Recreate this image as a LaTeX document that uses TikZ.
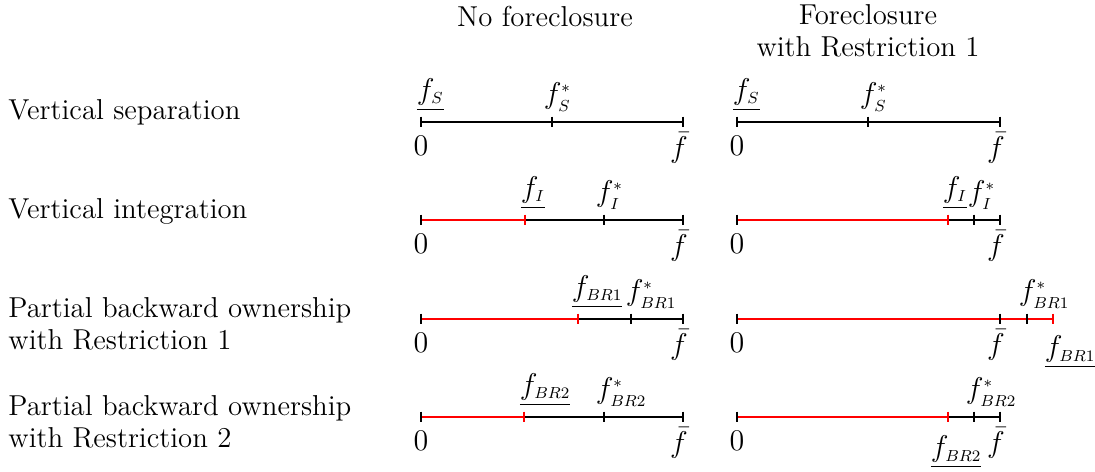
\documentclass[tikz,border=0pt]{standalone}
\usepackage{fix-cm}
\usepackage{amsmath,amssymb}
\usepackage{tikz}
\usetikzlibrary{positioning}
\DeclareMathSizes{15}{15}{8}{6}

\begin{document}
\begin{tikzpicture}[x=0.5pt,y=-0.5pt,
		every node/.style={font=\fontsize{14.4}{16}\selectfont},
		tick/.style={inner sep=0pt,minimum width=0pt,minimum height=5pt},
		thin/.style={line width=0.8pt},
		bold/.style={line width=1.4pt},
		redline/.style={red,line width=1.1pt},
		lab/.style={inner sep=0pt,font=\fontsize{15}{17}\selectfont},
		rowlab/.style={anchor=west,align=left,inner sep=0pt}]
	\useasboundingbox (0,0) rectangle (1095,471);
	% headers and row labels
	\node (hnofc) at (545,17) {No foreclosure};
	\node[align=center] (hfc) at (868,31) {Foreclosure\\with Restriction 1};
	\node[rowlab] (rsep) at (8,112) {Vertical separation};
	\node[rowlab] (rint) at (8,211) {Vertical integration};
	\node[rowlab] (rbr1) at (8,324) {Partial backward ownership\\with Restriction 1};
	\node[rowlab] (rbr2) at (8,422) {Partial backward ownership\\with Restriction 2};

	% vertical separation
	\node[tick] (a0) at (421,122) {};
	\node[tick] (a1) at (552,122) {};
	\node[tick] (a2) at (683,122) {};
	\draw[bold] (a0.center) -- (a1.center);
	\draw[thin] (a1.center) -- (a2.center);
	\node[tick] (b0) at (737,122) {};
	\node[tick] (b1) at (868,122) {};
	\node[tick] (b2) at (1000,122) {};
	\draw[bold] (b0.center) -- (b1.center);
	\draw[thin] (b1.center) -- (b2.center);
	\foreach \t in {a0,a1,a2,b0,b1,b2} \draw[thin] (\t.north) -- (\t.south);
	\node[lab,above right=2.5pt and -2.5pt of a0] (la0) {$\underline{f_S}$};
	\node[lab,above right=2.5pt and -4.5pt of a1] (la1) {$f^*_S$};
	\node[lab,below=4pt of a0] (za) {$0$};
	\node[lab,below=2.5pt of a2,xshift=-2pt] (fa) {$\bar f$};
	\node[lab,above right=2.5pt and -2.5pt of b0] (lb0) {$\underline{f_S}$};
	\node[lab,above right=2.5pt and -4.5pt of b1] (lb1) {$f^*_S$};
	\node[lab,below=4pt of b0] (zb) {$0$};
	\node[lab,below=2.5pt of b2,xshift=-2pt] (fb) {$\bar f$};

	% vertical integration
	\node[tick] (c0) at (421,220) {};
	\node[tick] (c1) at (525,220) {};
	\node[tick] (c2) at (604,220) {};
	\node[tick] (c3) at (683,220) {};
	\draw[redline] (c0.center) -- (c1.center);
	\draw[bold] (c1.center) -- (c2.center);
	\draw[thin] (c2.center) -- (c3.center);
	\node[tick] (d0) at (737,220) {};
	\node[tick] (d1) at (948,220) {};
	\node[tick] (d2) at (974,220) {};
	\node[tick] (d3) at (1000,220) {};
	\draw[redline] (d0.center) -- (d1.center);
	\draw[bold] (d1.center) -- (d2.center);
	\draw[thin] (d2.center) -- (d3.center);
	\foreach \t in {c0,c2,c3,d0,d2,d3} \draw[thin] (\t.north) -- (\t.south);
	\foreach \t in {c1,d1} \draw[thin,red] (\t.north) -- (\t.south);
	\node[lab,above right=2.5pt and -2.5pt of c1] (lc1) {$\underline{f_I}$};
	\node[lab,above right=2.5pt and -4.5pt of c2] (lc2) {$f^*_I$};
	\node[lab,below=4pt of c0] (zc) {$0$};
	\node[lab,below=2.5pt of c3,xshift=-2pt] (fc) {$\bar f$};
	\node[lab,above right=2.5pt and -3pt of d1] (ld1) {$\underline{f_I}$};
	\node[lab,above right=2.5pt and -3.5pt of d2] (ld2) {$f^*_I$};
	\node[lab,below=4pt of d0] (zd) {$0$};
	\node[lab,below=2.5pt of d3,xshift=-2pt] (fd) {$\bar f$};

	% partial backward ownership, restriction 1
	\node[tick] (e0) at (421,319) {};
	\node[tick] (e1) at (578,319) {};
	\node[tick] (e2) at (631,319) {};
	\node[tick] (e3) at (683,319) {};
	\draw[redline] (e0.center) -- (e1.center);
	\draw[thin] (e1.center) -- (e3.center);
	\node[tick] (g0) at (737,319) {};
	\node[tick] (g1) at (1000,319) {};
	\node[tick] (g2) at (1027,319) {};
	\node[tick] (g3) at (1053,319) {};
	\draw[redline] (g0.center) -- (g2.center);
	\draw[red,thin] (g2.center) -- (g3.center);
	\foreach \t in {e0,e2,e3,g0,g1,g2} \draw[thin] (\t.north) -- (\t.south);
	\foreach \t in {e1,g3} \draw[thin,red] (\t.north) -- (\t.south);
	\node[lab,above right=2.5pt and -3.5pt of e1] (le1) {$\underline{f_{BR1}}$};
	\node[lab,above right=2.5pt and -3pt of e2] (le2) {$f^*_{BR1}$};
	\node[lab,below=4pt of e0] (ze) {$0$};
	\node[lab,below=2.5pt of e3,xshift=-2pt] (fe) {$\bar f$};
	\node[lab,above right=2.5pt and -4.5pt of g2] (lg2) {$f^*_{BR1}$};
	\node[lab,below=4pt of g0] (zg) {$0$};
	\node[lab,below=2.5pt of g1,xshift=-2pt] (fg) {$\bar f$};
	\node[lab,below right=5.5pt and -4.5pt of g3] (lg3) {$\underline{f_{BR1}}$};

	% partial backward ownership, restriction 2
	\node[tick] (h0) at (421,417) {};
	\node[tick] (h1) at (524,417) {};
	\node[tick] (h2) at (604,417) {};
	\node[tick] (h3) at (683,417) {};
	\draw[redline] (h0.center) -- (h1.center);
	\draw[thin] (h1.center) -- (h3.center);
	\node[tick] (k0) at (737,417) {};
	\node[tick] (k1) at (948,417) {};
	\node[tick] (k2) at (974,417) {};
	\node[tick] (k3) at (1000,417) {};
	\draw[redline] (k0.center) -- (k1.center);
	\draw[thin] (k1.center) -- (k3.center);
	\foreach \t in {h0,h2,h3,k0,k2,k3} \draw[thin] (\t.north) -- (\t.south);
	\foreach \t in {h1,k1} \draw[thin,red] (\t.north) -- (\t.south);
	\node[lab,above right=2.5pt and -2.5pt of h1] (lh1) {$\underline{f_{BR2}}$};
	\node[lab,above right=2.5pt and -4.5pt of h2] (lh2) {$f^*_{BR2}$};
	\node[lab,below=4pt of h0] (zh) {$0$};
	\node[lab,below=2.5pt of h3,xshift=-2pt] (fh) {$\bar f$};
	\node[lab,above right=2.5pt and -4.5pt of k2] (lk2) {$f^*_{BR2}$};
	\node[lab,below=4pt of k0] (zk) {$0$};
	\node[lab,below=2.5pt of k3,xshift=-2pt] (fk) {$\bar f$};
	\node[lab,below right=6.5pt and -9pt of k1] (lk1) {$\underline{f_{BR2}}$};
\end{tikzpicture}
\end{document}
